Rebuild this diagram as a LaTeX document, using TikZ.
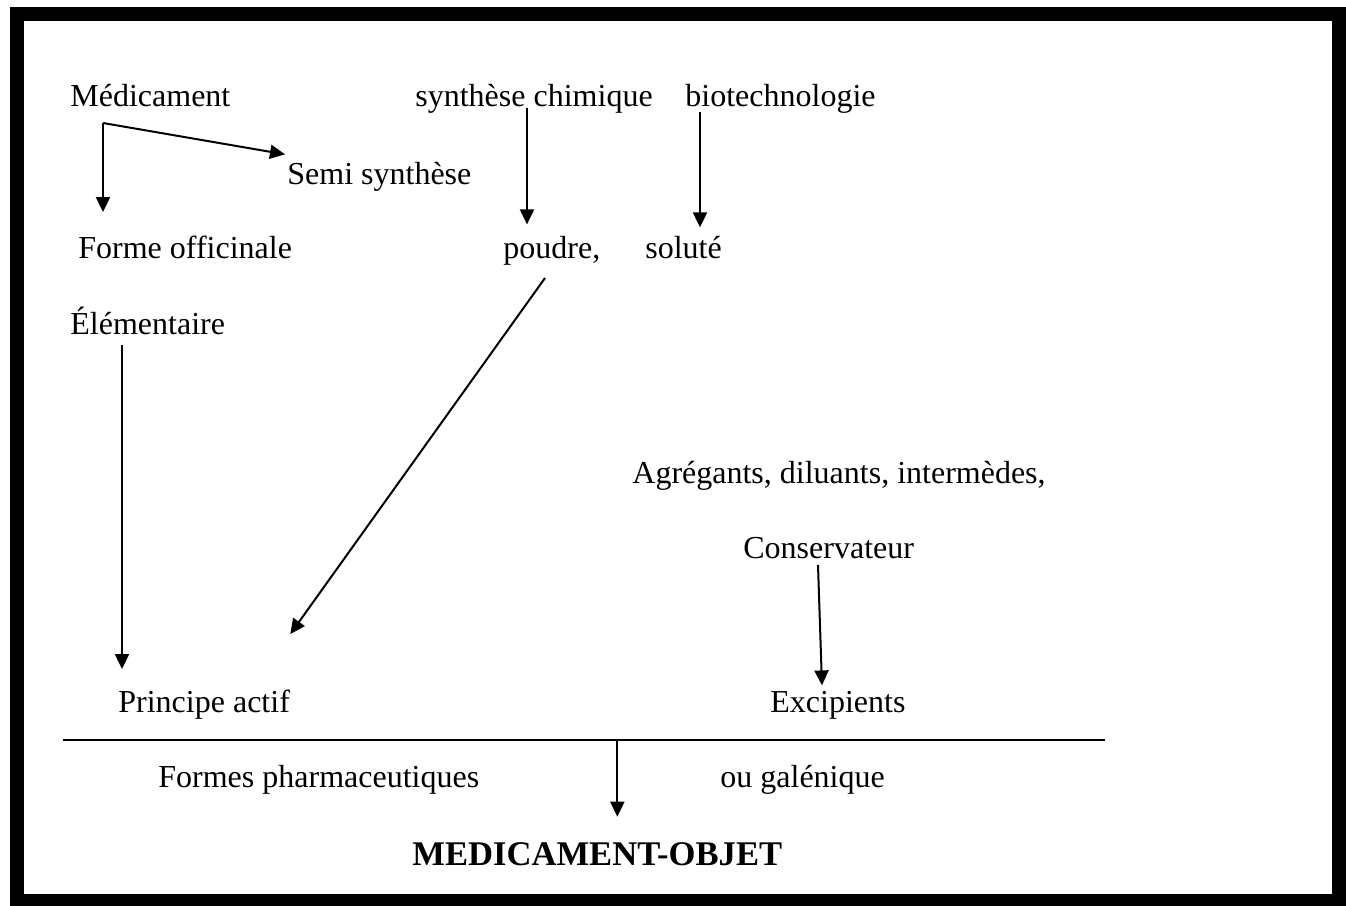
\documentclass[tikz,border=0pt]{standalone}
\usepackage{fontspec}
\setmainfont{Liberation Serif}
\usepackage{tikz}
\usetikzlibrary{arrows.meta,calc}

\tikzset{
  >={Triangle[length=7.5pt,width=7pt]},
  txt/.style={anchor=base west, inner sep=0pt, font=\fontsize{16}{19}\selectfont},
  flow/.style={line width=1pt, ->},
}

\begin{document}
\begin{tikzpicture}[x=0.5pt,y=-0.5pt]
        \useasboundingbox (0,0) rectangle (1346,906);
        \draw [line width=7pt] (17,14) rectangle (1339,901);

        % top row
        \node [txt] (medic) at (70,106)  {Médicament};
        \node [txt] (chim)  at (415,106) {synthèse chimique};
        \node [txt] (bio)   at (685,106) {biotechnologie};
        \node [txt] (semi)  at (287,184) {Semi synthèse};
        \node [txt] (forme) at (78,258)  {Forme officinale};
        \node [txt] (poudre) at (503,258) {poudre,};
        \node [txt] (solute) at (645,258) {soluté};
        \node [txt] (elem)  at (70,334)  {Élémentaire};

        % excipients
        \node [txt] (agreg) at (632,483) {Agrégants, diluants, intermèdes,};
        \node [txt] (cons)  at (743,558) {Conservateur};
        \node [txt] (princ) at (118,712) {Principe actif};
        \node [txt] (excip) at (770,712) {Excipients};

        % bottom
        \node [txt] (formes) at (158,787) {Formes pharmaceutiques};
        \node [txt] (galen)  at (720,787) {ou galénique};
        \node [txt, font=\fontsize{17.3}{20}\selectfont\bfseries] (objet) at (412,865) {MEDICAMENT-OBJET};

        \coordinate (fork) at ($(medic.base west)+(33,17)$);
        \draw [flow] (fork) -- ($(fork |- forme.north)+(0,-23)$);
        \draw [flow] (fork) -- ($(semi.north west)+(-2,-7)$);

        \draw [flow] ($(chim.base west)+(112,2)$) coordinate (c1) -- ($(c1 |- poudre.north)+(0,-11)$);
        \draw [flow] ($(bio.base west)+(15,6)$) coordinate (c2) -- ($(c2 |- solute.north)+(0,-8)$);
        \draw [flow] ($(poudre.base west)+(42,20)$) -- ($(princ.north east)+(0,-55)$);
        \draw [flow] ($(elem.base west)+(52,11)$) coordinate (c3) -- ($(c3 |- princ.north)+(0,-20)$);
        \draw [flow] ($(cons.base west)+(75,7)$) -- ($(excip.north west)+(52,-5)$);

        \draw [line width=1pt] (63,740) coordinate (barL) -- (1105,740) coordinate (barR);
        \draw [flow] ($(barL)!0.532!(barR)$) coordinate (c4) -- ($(c4 |- objet.north)+(0,-25)$);
\end{tikzpicture}
\end{document}
